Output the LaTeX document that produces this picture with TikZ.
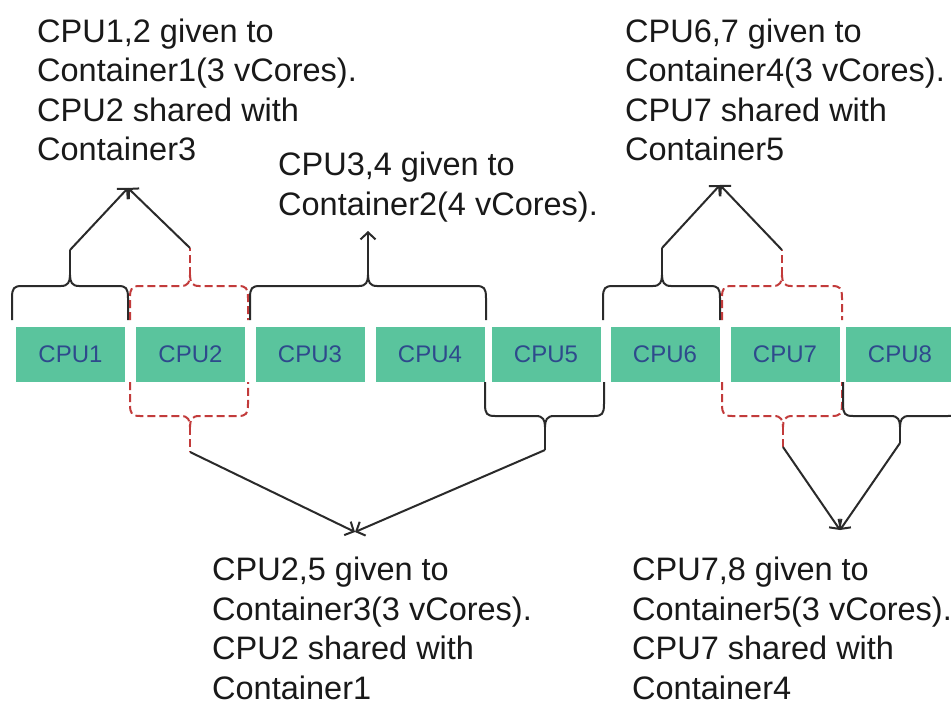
\documentclass[tikz,border=0pt]{standalone}
\usepackage{fontspec}
\setmainfont{Liberation Sans}
\usetikzlibrary{arrows.meta}
\definecolor{cpufill}{HTML}{5AC49D}
\definecolor{cputext}{HTML}{2E4A8C}
\definecolor{dashred}{HTML}{C23B3B}
\definecolor{linegray}{HTML}{2A2A2A}
% top brace: #1 x1, #2 xm, #3 x2, #4 style, #5 tip coordinate name, #6 tip y
\newcommand{\cpubraceup}[6]{%
  \draw[#4] (#1,320) -- (#1,298) .. controls (#1,288) and (#1+2,286) .. (#1+10,286)
    -- (#2-9,286) .. controls (#2-2,286) and (#2,282) .. (#2,275)
    .. controls (#2,282) and (#2+2,286) .. (#2+9,286)
    -- (#3-10,286) .. controls (#3-2,286) and (#3,288) .. (#3,298) -- (#3,320);
  \coordinate (#5) at (#2,#6);
  \draw[#4] (#2,275) -- (#5);
}
% bottom brace
\newcommand{\cpubracedown}[6]{%
  \draw[#4] (#1,382) -- (#1,404) .. controls (#1,414) and (#1+2,416) .. (#1+10,416)
    -- (#2-9,416) .. controls (#2-2,416) and (#2,420) .. (#2,427)
    .. controls (#2,420) and (#2+2,416) .. (#2+9,416)
    -- (#3-10,416) .. controls (#3-2,416) and (#3,414) .. (#3,404) -- (#3,382);
  \coordinate (#5) at (#2,#6);
  \draw[#4] (#2,427) -- (#5);
}
\begin{document}
\begin{tikzpicture}[x=1pt,y=-1pt,
  cpu/.style={fill=cpufill, text=cputext, minimum width=109pt, minimum height=55pt, inner sep=0pt, font=\fontsize{24}{28}\selectfont},
  lbl/.style={anchor=north west, align=left, inner sep=0pt, font=\fontsize{32.5}{39.5}\selectfont, text=black!90},
  brc/.style={draw=linegray, line width=2pt},
  rbrc/.style={draw=dashred, line width=2pt, dash pattern=on 8pt off 4pt},
  arr/.style={draw=linegray, line width=2pt, -{Straight Barb[length=7pt,width=15pt]}}]
\useasboundingbox (0,0) rectangle (951,706);
\clip (0,0) rectangle (951,706);
\fill[white] (0,0) rectangle (951,706);

% CPUs
\node[cpu] (c1) at (70.5,354) {CPU1};
\node[cpu] (c2) at (190.5,354) {CPU2};
\node[cpu] (c3) at (310,354) {CPU3};
\node[cpu] (c4) at (430,354) {CPU4};
\node[cpu] (c5) at (546,354) {CPU5};
\node[cpu] (c6) at (665,354) {CPU6};
\node[cpu] (c7) at (785,354) {CPU7};
\node[cpu] (c8) at (900,354) {CPU8};

% labels
\node[lbl] (t1) at (37,18.5) {CPU1,2 given to\\Container1(3 vCores).\\CPU2 shared with\\Container3};
\node[lbl] (t2) at (278,152) {CPU3,4 given to\\Container2(4 vCores).};
\node[lbl] (t3) at (625,18.5) {CPU6,7 given to\\Container4(3 vCores).\\CPU7 shared with\\Container5};
\node[lbl] (t4) at (212,557) {CPU2,5 given to\\Container3(3 vCores).\\CPU2 shared with\\Container1};
\node[lbl] (t5) at (632,557) {CPU7,8 given to\\Container5(3 vCores).\\CPU7 shared with\\Container4};

% arrow targets
\coordinate (a1) at (128,188);
\coordinate (a2) at (368,231);
\coordinate (a3) at (720,185);
\coordinate (a4) at (355,532);
\coordinate (a5) at (840,530);

% top braces
\cpubraceup{12}{70}{128}{brc}{b1}{250}
\cpubraceup{130}{190}{248}{rbrc}{b2}{248}
\cpubraceup{250}{368}{486}{brc}{b3}{262}
\cpubraceup{603}{662}{720}{brc}{b4}{248}
\cpubraceup{722}{782}{842}{rbrc}{b5}{250}

% bottom braces
\cpubracedown{130}{190}{248}{rbrc}{d1}{452}
\cpubracedown{485}{545}{604}{brc}{d2}{450}
\cpubracedown{722}{783}{842}{rbrc}{d3}{447}
\cpubracedown{843}{900}{958}{brc}{d4}{443}

% connectors
\draw[arr] (b1) -- (a1);
\draw[arr] (b2) -- (a1);
\draw[arr] (b3) -- (a2);
\draw[arr] (b4) -- (a3);
\draw[arr] (b5) -- (a3);
\draw[arr] (d1) -- (a4);
\draw[arr] (d2) -- (a4);
\draw[arr] (d3) -- (a5);
\draw[arr] (d4) -- (a5);
\end{tikzpicture}
\end{document}
